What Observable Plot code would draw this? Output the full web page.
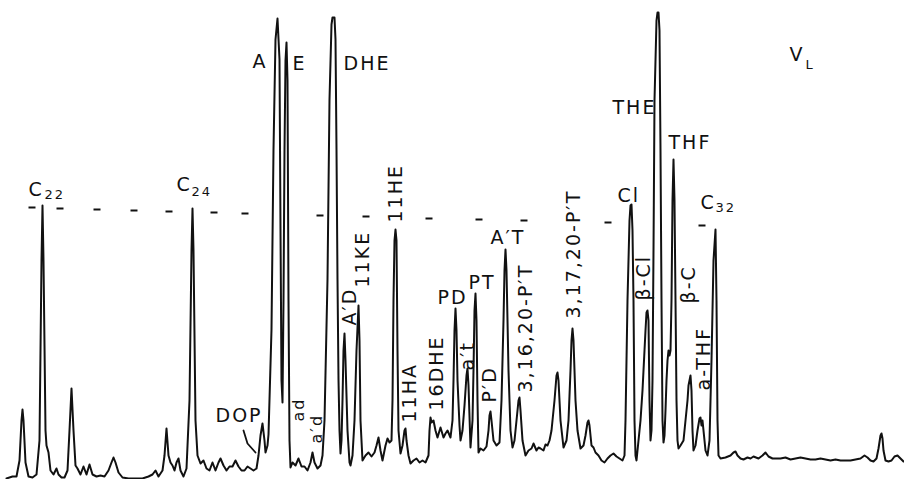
<!DOCTYPE html>
<html><head><meta charset="utf-8">
<script src="https://cdn.jsdelivr.net/npm/d3@7"></script>
<script src="https://cdn.jsdelivr.net/npm/@observablehq/plot@0.6"></script>
<style>
html,body{margin:0;padding:0;background:#fff;}
#chart svg{display:block;}
</style></head><body><div id="chart"></div>
<script>
// Retention (time, arbitrary units) and detector response (arbitrary units)
const time = [6,12,16,19,21,22,23,25,28,32,36,39,41,42,43,45,46,48,50,53,56,58,61,64,67,69,71,73,75,77,80,83,86,89,92,96,100,104,108,111,113,115,118,122,128,135,142,148,152,155,158,162,164,166,168,170,172,174,176,178,180,183,186,189,191,192,193,195,197,200,203,206,209,212,215,218,220,223,226,229,232,235,238,241,244,247,250,253,256,258,260,262,264,265,267,268,271,273,275,277,279,280,281,282,283,284,285,286,287,288,289,290,292,295,298,301,304,307,310,312,314,317,320,322,324,327,329,331,332,334,335,336,337,338,339,340,341,342,343,344,345,347,349,350,352,354,356,358,359,360,362,365,368,371,374,376,378,380,382,385,387,389,391,392,393,394,395,396,397,398,400,402,404,405,406,408,410,413,416,419,422,425,428,429,430,431,433,435,437,440,443,445,447,450,452,453,454,455,456,457,459,460,462,464,466,467,468,470,472,473,474,475,476,477,478,480,483,486,488,489,490,491,493,496,499,501,503,504,505,506,508,510,512,514,516,518,519,520,522,525,528,531,533,536,538,540,543,545,547,549,551,554,556,557,558,560,563,566,568,570,571,572,573,575,577,580,583,585,587,588,589,591,593,595,598,601,604,607,610,613,616,619,622,624,625,627,629,630,631,632,633,634,635,636,638,640,642,645,646,647,648,649,650,651,652,653,654,656,657,658,659,660,661,662,663,664,665,666,667,668,669,670,671,672,673,674,675,676,677,678,680,683,685,687,688,690,691,692,693,695,697,699,700,701,702,703,705,707,709,711,713,715,716,717,718,720,725,730,733,735,737,740,743,747,750,753,758,762,765,768,772,777,780,785,790,795,800,805,810,815,820,825,830,835,840,845,850,855,860,864,867,870,873,876,878,880,881,882,883,885,888,891,894,897,900,903];
const response = [1,3,3,19,59,70,59,17,3,2,5,39,219,274,219,49,34,27,9,5,11,5,2,2,9,49,91,49,14,11,5,13,5,15,5,3,4,3,9,17,22,17,7,2,1,1,1,3,5,9,3,9,24,51,24,17,14,9,17,21,9,3,11,79,229,271,229,59,24,16,19,11,9,17,9,17,21,14,9,13,13,19,13,9,9,13,11,9,11,24,44,56,39,27,34,45,150,330,440,461,420,250,99,77,179,329,419,437,399,179,39,12,17,14,21,13,13,9,17,27,17,11,14,24,59,200,380,455,462,462,440,330,200,100,49,26,39,79,129,146,119,49,17,14,24,59,129,174,139,59,19,24,27,23,27,34,42,29,19,34,41,37,39,79,179,239,250,239,129,49,26,34,49,51,39,24,16,19,21,17,19,17,24,49,62,57,59,49,42,52,42,46,49,42,59,99,149,171,149,99,54,39,49,74,104,111,94,32,59,109,169,186,159,79,27,31,29,33,49,64,68,59,39,34,37,79,159,209,230,209,109,49,32,39,59,79,82,69,39,24,29,31,36,29,32,31,29,35,34,39,49,79,104,107,99,59,32,39,59,109,139,151,139,79,49,31,34,44,57,59,54,34,32,27,24,19,17,21,24,26,23,21,19,24,59,179,259,274,275,249,179,59,24,19,39,59,89,149,167,169,159,79,39,49,99,229,379,459,467,467,449,329,179,59,37,44,69,99,119,129,124,129,179,279,320,279,179,79,39,31,34,39,59,79,94,104,89,49,29,34,49,61,62,54,59,49,29,24,39,119,219,250,179,59,24,21,22,24,27,28,24,21,20,22,21,23,21,24,27,23,21,21,21,22,20,21,22,21,20,20,21,20,19,20,19,19,19,20,21,24,22,19,18,21,31,44,46,41,29,19,18,19,23,24,21,18];

// Dashed reference level (start of each dash)
const dashTime = [28,56,93,130,165,210,241,316,362,425,475,520,604,698];
const dashResponse = [272,271,270,269,268,267,266,264,263,261,260,259,257,254];

// Pointer from DOP label to its peak
const pointerTime = [243,247,255];
const pointerResponse = [49,36,27];

// Horizontal peak labels
const hLabels = ["A","E","DHE","THE","THF","Cl","PD","PT","A′T","DOP","V","C","C","C"];
const hLabelTime = [252,292,343,612,668,617,437,468,490,215,789,28,176,700];
const hLabelResponse = [417.5,415.5,415.5,371.5,336.5,284,181.5,196.5,241.5,63.5,424.5,289.5,294.5,276.5];

// Subscripts
const subLabels = ["22","24","32","L"];
const subLabelTime = [44,191,715,805];
const subLabelResponse = [285,288,271.5,415];

// Vertical (rotated) peak labels
const vLabels = ["A′D","11KE","11HE","11HA","16DHE","a′t","P′D","3,16,20-P′T","3,17,20-P′T","β-Cl","β-C","a-THF"];
const vLabelTime = [349.5,362.5,395,409,436,467,489,525,573.5,643,688.5,703];
const vLabelResponse = [154,192,257,57,69,109,77,87,161,179,176,89];

// Small rotated labels
const sLabels = ["ad","a′d"];
const sLabelTime = [298,316];
const sLabelResponse = [58,36];

const trace = time.map((t, i) => ({t, r: response[i]}));
const dashes = dashTime.map((t, i) => ({t, r: dashResponse[i]}));
const pointer = pointerTime.map((t, i) => ({t, r: pointerResponse[i]}));
const zip = (a, b, c) => a.map((s, i) => ({s, t: b[i], r: c[i]}));

const chart = Plot.plot({
  width: 904,
  height: 479,
  margin: 0,
  x: {domain: [0, 904], axis: null},
  y: {domain: [0, 479], axis: null},
  style: "font-family: 'DejaVu Sans', sans-serif; letter-spacing: 2px; background: #fff; color: #111;",
  marks: [
    Plot.link(dashes, {x1: "t", x2: d => d.t + 7, y1: "r", y2: "r", stroke: "#111", strokeWidth: 2}),
    Plot.line(trace, {x: "t", y: "r", stroke: "#111", strokeWidth: 2, strokeLinejoin: "round"}),
    Plot.line(pointer, {x: "t", y: "r", stroke: "#111", strokeWidth: 1.8}),
    Plot.text(zip(hLabels, hLabelTime, hLabelResponse), {x: "t", y: "r", text: "s", textAnchor: "start", fontSize: 19, fill: "#111"}),
    Plot.text(zip(subLabels, subLabelTime, subLabelResponse), {x: "t", y: "r", text: "s", textAnchor: "start", fontSize: 13, fill: "#111"}),
    Plot.text(zip(vLabels, vLabelTime, vLabelResponse), {x: "t", y: "r", text: "s", textAnchor: "start", rotate: -90, fontSize: 19, fill: "#111"}),
    Plot.text(zip(sLabels, sLabelTime, sLabelResponse), {x: "t", y: "r", text: "s", textAnchor: "start", rotate: -90, fontSize: 16, fill: "#111"})
  ]
});
document.getElementById("chart").appendChild(chart);
</script>
</body></html>
